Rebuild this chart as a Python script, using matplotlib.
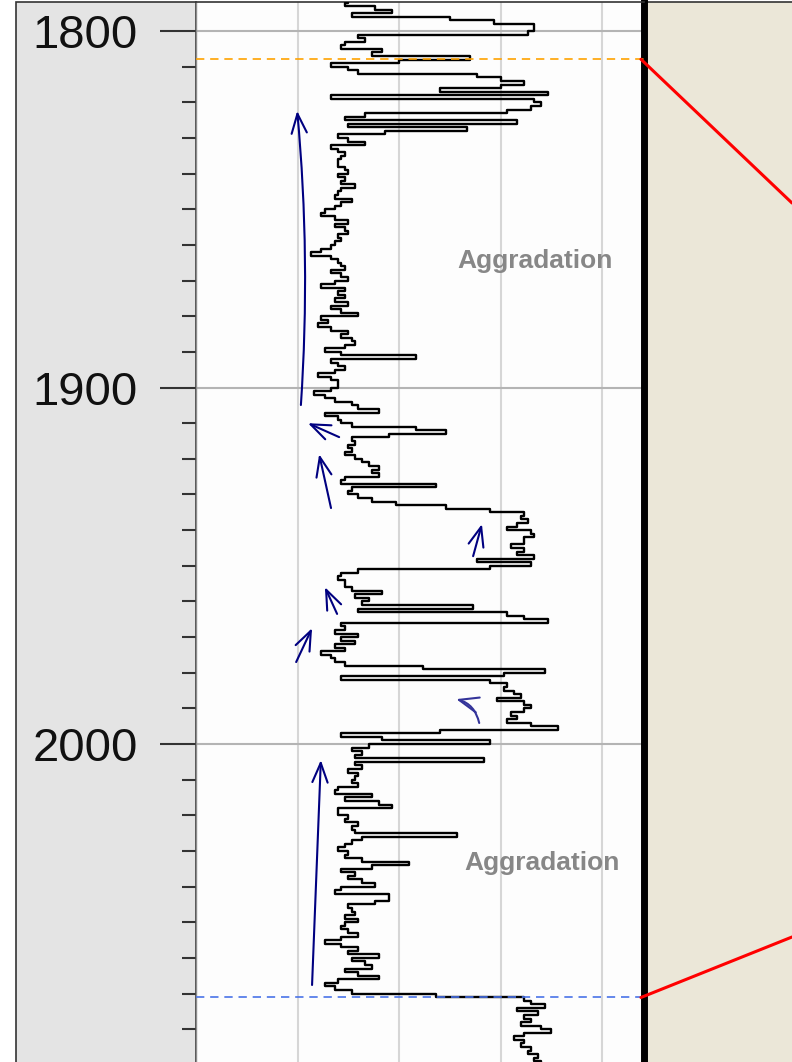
import numpy as np
import matplotlib
matplotlib.use("Agg")
from matplotlib import pyplot as plt
from matplotlib.patches import Rectangle, ConnectionPatch
from matplotlib.ticker import MultipleLocator

plt.rcParams["font.family"] = ["Liberation Sans", "DejaVu Sans"]

# gamma-ray style log, one sample per depth unit (1791 .. 2090)
depth = np.arange(1791, 2091)
gr = [
    60, 45, 44, 53, 58, 46, 75, 88, 100, 100,
    98, 48, 50, 44, 43, 55, 52, 81, 60, 40,
    45, 48, 83, 90, 97, 90, 72, 104, 40, 100,
    102, 99, 92, 50, 44, 95, 45, 80, 56, 42,
    45, 50, 40, 42, 44, 43, 42, 42, 44, 45,
    42, 44, 43, 47, 43, 42, 41, 46, 43, 41,
    38, 37, 41, 45, 41, 44, 45, 42, 43, 41,
    40, 37, 34, 40, 42, 43, 44, 40, 43, 45,
    41, 37, 44, 42, 44, 41, 45, 40, 43, 48,
    37, 39, 36, 40, 45, 43, 46, 47, 44, 38,
    43, 65, 40, 42, 44, 41, 36, 40, 42, 42,
    40, 35, 38, 41, 46, 48, 54, 38, 42, 43,
    46, 65, 74, 57, 46, 47, 45, 46, 44, 47,
    49, 51, 54, 52, 54, 44, 43, 71, 46, 45,
    48, 52, 59, 74, 87, 97, 96, 98, 95, 92,
    99, 100, 97, 97, 93, 97, 95, 100, 83, 99,
    87, 48, 43, 42, 44, 44, 46, 55, 47, 51,
    49, 82, 48, 92, 97, 104, 43, 44, 41, 48,
    43, 47, 41, 44, 37, 40, 41, 44, 67, 103,
    91, 43, 87, 92, 91, 94, 96, 89, 97, 99,
    97, 93, 95, 92, 99, 107, 72, 43, 55, 87,
    51, 46, 49, 47, 85, 47, 49, 45, 48, 47,
    46, 48, 42, 41, 52, 44, 54, 58, 42, 42,
    45, 44, 48, 46, 47, 77, 49, 46, 44, 42,
    45, 44, 49, 63, 52, 43, 47, 45, 49, 53,
    43, 41, 57, 57, 53, 45, 46, 47, 44, 48,
    44, 43, 45, 48, 43, 38, 43, 48, 45, 54,
    46, 50, 52, 44, 48, 54, 42, 38, 41, 46,
    71, 97, 99, 103, 95, 101, 97, 99, 96, 102,
    105, 97, 94, 97, 96, 99, 98, 101, 100, 102,
]

top_marker = 1807.9
base_marker = 2071.1

labels = ["Aggradation", "Aggradation"]
label_pos = [(100.2, 1864.5), (102.3, 2033.4)]

# hand drawn trend arrows: (value, depth) tail -> head
arrow_tails = [(31.0, 1904.9), (42.3, 1913.9), (39.9, 1933.8), (81.9, 1947.3),
               (41.7, 1963.5), (29.6, 1977.0), (83.7, 1994.1), (34.3, 2067.6)]
arrow_heads = [(29.9, 1822.4), (33.1, 1910.0), (36.4, 1918.7), (84.5, 1938.3),
               (38.1, 1956.0), (34.3, 1967.5), (76.9, 1987.4), (36.9, 2004.5)]
arrow_bend = [0.04, 0.0, 0.0, 0.0, 0.0, 0.0, 0.3, 0.0]
arrow_colors = ["#000080"] * 6 + ["#34349a", "#000080"]

W, H = 792, 1062
fig = plt.figure(figsize=(W / 100, H / 100), dpi=100)

# gray depth-track panel on the left
fig.add_artist(Rectangle((16 / W, -0.01), (196 - 16) / W, 1.01 - 1.5 / H,
                         transform=fig.transFigure, facecolor="#e4e4e4",
                         edgecolor="#333333", lw=1.2, zorder=0))

# beige panel on the right
ax2 = fig.add_axes([644 / W, 0, 1 - 644 / W, 1 - 1.5 / H], zorder=0)
ax2.set_facecolor("#ebe7d8")
ax2.set_xticks([])
ax2.set_yticks([])
for s in ["left", "right", "bottom"]:
    ax2.spines[s].set_visible(False)
ax2.spines["top"].set_color("#333333")
ax2.spines["top"].set_linewidth(1.2)

ax = fig.add_axes([196 / W, 0, (644 - 196) / W, 1 - 1.5 / H], zorder=2)
ax.set_facecolor("#fdfdfd")
ax.set_xlim(0, 132.4)
ax.set_ylim(2089.2, 1791.7)

ax.plot(gr, depth, drawstyle="steps-post", color="black", lw=1.7, zorder=3)

ax.axhline(top_marker, color="#ffa200", lw=1.2, dashes=(5, 3.5), zorder=4)
ax.axhline(base_marker, color="#4a73e8", lw=1.2, dashes=(5, 3.5), zorder=4)

for (tx, ty), (hx, hy), rad, col in zip(arrow_tails, arrow_heads, arrow_bend, arrow_colors):
    ax.annotate("", xy=(hx, hy), xytext=(tx, ty),
                arrowprops=dict(arrowstyle="->,head_length=1.4,head_width=0.55",
                                color=col, lw=1.5, shrinkA=0, shrinkB=0,
                                connectionstyle=f"arc3,rad={rad}"),
                zorder=5)

for txt, (x, y) in zip(labels, label_pos):
    ax.text(x, y, txt, ha="center", va="center", fontsize=19,
            fontweight="bold", color="#878787", zorder=5)

ax.set_yticks([1800, 1900, 2000])
ax.yaxis.set_minor_locator(MultipleLocator(10))
ax.set_xticks([30, 60, 90, 120])
ax.tick_params(axis="x", length=0, labelbottom=False)
ax.tick_params(axis="y", which="major", length=26, width=1.5, color="#333333",
               pad=16, labelsize=34, labelcolor="#111111")
ax.tick_params(axis="y", which="minor", length=10, width=1.5, color="#333333")
ax.grid(axis="y", which="major", color="#b4b4b4", lw=1.5)
ax.grid(axis="x", which="major", color="#d6d6d6", lw=1.5)
ax.set_axisbelow(True)

ax.spines["bottom"].set_visible(False)
ax.spines["left"].set_color("#8c8c8c")
ax.spines["left"].set_linewidth(1.0)
ax.spines["top"].set_color("#333333")
ax.spines["top"].set_linewidth(1.2)
ax.spines["right"].set_color("black")
ax.spines["right"].set_linewidth(5.0)

# red zoom connectors to the right panel
for d, yend in [(top_marker, 1 - 203 / H), (base_marker, 1 - 937 / H)]:
    con = ConnectionPatch(xyA=(131.5, d), coordsA=ax.transData,
                          xyB=(1.0, yend), coordsB=fig.transFigure,
                          color="#ff0000", lw=2.2, zorder=10)
    fig.add_artist(con)

plt.savefig("out.png", dpi=100)
